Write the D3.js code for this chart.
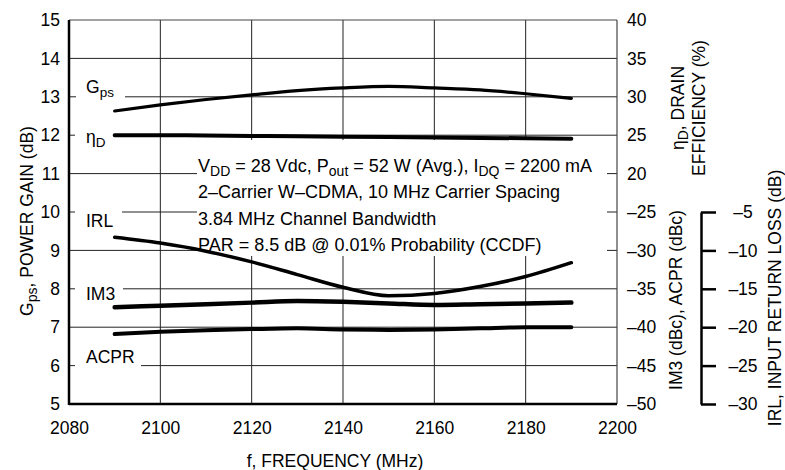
<!DOCTYPE html>
<html>
<head>
<meta charset="utf-8">
<script src="https://cdn.jsdelivr.net/npm/d3@7"></script>
<style>
  body { margin: 0; background: #fff; }
  svg { font-family: "Liberation Sans", Arial, Helvetica, sans-serif; }
</style>
</head>
<body>
<svg id="chart" width="785" height="470"></svg>
<script>
// frequency points (MHz)
var freq = [2090, 2100, 2110, 2120, 2130, 2140, 2150, 2160, 2170, 2180, 2190];
// left axis: power gain (dB)
var gps = [12.63, 12.79, 12.93, 13.05, 13.16, 13.23, 13.27, 13.23, 13.18, 13.08, 12.96];
// drain efficiency (%)
var effD = [25.0, 25.0, 24.95, 24.9, 24.85, 24.8, 24.75, 24.7, 24.65, 24.6, 24.55];
// IM3 / ACPR (dBc)
var im3 = [-37.4, -37.2, -37.0, -36.8, -36.6, -36.7, -36.9, -37.1, -37.0, -36.9, -36.8];
var acpr = [-40.9, -40.6, -40.4, -40.25, -40.15, -40.3, -40.35, -40.3, -40.15, -40.0, -40.0];
// input return loss (dB)
var irl = [-8.3, -9.05, -10.1, -11.5, -13.15, -14.8, -15.9, -15.6, -14.7, -13.4, -11.6];

var xTicks = [2080, 2100, 2120, 2140, 2160, 2180, 2200];
var gainTicks = [5, 6, 7, 8, 9, 10, 11, 12, 13, 14, 15];
var effTicks = [20, 25, 30, 35, 40];
var imdTicks = [-50, -45, -40, -35, -30, -25];
var irlTicks = [-30, -25, -20, -15, -10, -5];

var svg = d3.select("#chart"),
    pLeft = 69, pRight = 617, pTop = 20, pBottom = 404;

var x = d3.scaleLinear().domain([2080, 2200]).range([pLeft, pRight]);
var yG = d3.scaleLinear().domain([5, 15]).range([pBottom, pTop]);
var yEff = d3.scaleLinear().domain([-10, 40]).range([pBottom, pTop]);
var yImd = d3.scaleLinear().domain([-50, 0]).range([pBottom, pTop]);
var yIrlFull = d3.scaleLinear().domain([-30, 20]).range([pBottom, pTop]);
var yIrl = d3.scaleLinear().domain([-30, -5]).range([pBottom, yG(10)]);

function dash(d) { return d < 0 ? "\u2013" + Math.abs(d) : String(d); }

// grid
svg.append("g").selectAll("line").data(gainTicks.slice(1, -1)).enter().append("line")
   .attr("x1", pLeft).attr("x2", pRight)
   .attr("y1", function(d) { return yG(d); }).attr("y2", function(d) { return yG(d); })
   .attr("stroke", "#222").attr("stroke-width", 1);
svg.append("g").selectAll("line").data(xTicks.slice(1, -1)).enter().append("line")
   .attr("y1", pTop).attr("y2", pBottom)
   .attr("x1", function(d) { return x(d); }).attr("x2", function(d) { return x(d); })
   .attr("stroke", "#222").attr("stroke-width", 1);

// white boxes behind labels
var boxes = [[76, 80, 49, 24], [75, 124, 40, 22], [75, 200, 47, 25], [75, 276, 48, 24], [75, 352, 66, 24], [197, 140, 410, 116]];
svg.append("g").selectAll("rect").data(boxes).enter().append("rect")
   .attr("x", function(d) { return d[0]; }).attr("y", function(d) { return d[1]; })
   .attr("width", function(d) { return d[2]; }).attr("height", function(d) { return d[3]; })
   .attr("fill", "#fff");

// frame
svg.append("line").attr("x1", pLeft).attr("x2", pRight).attr("y1", pTop).attr("y2", pTop)
   .attr("stroke", "#444").attr("stroke-width", 1);
svg.append("line").attr("x1", pRight).attr("x2", pRight).attr("y1", pTop).attr("y2", pBottom)
   .attr("stroke", "#444").attr("stroke-width", 1.2);
svg.append("line").attr("x1", pLeft).attr("x2", pLeft).attr("y1", pTop).attr("y2", pBottom + 1)
   .attr("stroke", "#000").attr("stroke-width", 2.5);
svg.append("line").attr("x1", pLeft).attr("x2", pRight).attr("y1", pBottom).attr("y2", pBottom)
   .attr("stroke", "#000").attr("stroke-width", 2.5);

// axes
function styleTicks(g, size) {
    g.select(".domain").remove();
    g.selectAll("text").attr("font-size", size).attr("fill", "#000");
}
svg.append("g").attr("transform", "translate(" + pLeft + ",0)")
   .call(d3.axisLeft(yG).tickValues(gainTicks).tickSize(0).tickPadding(9))
   .call(styleTicks, "17.5px");
svg.append("g").attr("transform", "translate(0," + pBottom + ")")
   .call(d3.axisBottom(x).tickValues(xTicks).tickSize(0).tickPadding(18).tickFormat(d3.format("d")))
   .call(styleTicks, "17.5px");
svg.append("g").attr("transform", "translate(" + pRight + ",0)")
   .call(d3.axisRight(yEff).tickValues(effTicks).tickSize(0).tickPadding(10))
   .call(styleTicks, "17.5px");
svg.append("g").attr("transform", "translate(" + pRight + ",0)")
   .call(d3.axisRight(yImd).tickValues(imdTicks).tickSize(0).tickPadding(10).tickFormat(dash))
   .call(styleTicks, "17.5px");

var irlAxis = svg.append("g").attr("transform", "translate(701,0)")
   .call(d3.axisRight(yIrl).tickValues(irlTicks).tickSizeInner(15).tickSizeOuter(0).tickFormat(dash));
irlAxis.select(".domain").attr("stroke", "#000").attr("stroke-width", 2.5);
irlAxis.selectAll(".tick line").attr("stroke", "#000").attr("stroke-width", 2.5);
irlAxis.selectAll("text").attr("font-size", "17.5px").attr("fill", "#000")
   .attr("text-anchor", "middle").attr("x", 42);

// curves
var series = [
    {values: gps, scale: yG, width: 3.2},
    {values: effD, scale: yEff, width: 4},
    {values: irl, scale: yIrlFull, width: 3.5},
    {values: im3, scale: yImd, width: 4.5},
    {values: acpr, scale: yImd, width: 4}
];
series.forEach(function(s) {
    var line = d3.line()
        .x(function(d, i) { return x(freq[i]); })
        .y(function(d) { return s.scale(d); })
        .curve(d3.curveMonotoneX);
    svg.append("path").datum(s.values)
       .attr("d", line)
       .attr("fill", "none")
       .attr("stroke", "#000")
       .attr("stroke-width", s.width)
       .attr("stroke-linecap", "round");
});

// text with subscripts: parts are [text, isSub]
function richText(t, parts, base, sub) {
    var wasSub = false;
    parts.forEach(function(p) {
        var s = t.append("tspan").text(p[0]).attr("font-size", p[1] ? sub : base);
        if (p[1] && !wasSub) s.attr("dy", 4);
        if (!p[1] && wasSub) s.attr("dy", -4);
        wasSub = p[1];
    });
    return t;
}

// curve labels
var labels = [
    {parts: [["G", false], ["ps", true]], y: 93},
    {parts: [["\u03b7", false], ["D", true]], y: 143},
    {parts: [["IRL", false]], y: 227},
    {parts: [["IM3", false]], y: 300},
    {parts: [["ACPR", false]], y: 363}
];
labels.forEach(function(l) {
    richText(svg.append("text").attr("x", 86).attr("y", l.y), l.parts, "17.5px", "13.5px");
});

// conditions block
var notes = [
    [["V", false], ["DD", true], [" = 28 Vdc, P", false], ["out", true], [" = 52 W (Avg.), I", false], ["DQ", true], [" = 2200 mA", false]],
    [["2\u2013Carrier W\u2013CDMA, 10 MHz Carrier Spacing", false]],
    [["3.84 MHz Channel Bandwidth", false]],
    [["PAR = 8.5 dB @ 0.01% Probability (CCDF)", false]]
];
var noteY = [171.5, 198, 225, 251];
notes.forEach(function(n, i) {
    richText(svg.append("text").attr("x", 198).attr("y", noteY[i]), n, "18px", "14px");
});

// axis titles
function title(tx, ty, parts) {
    var t = svg.append("text").attr("text-anchor", "middle")
       .attr("transform", "translate(" + tx + "," + ty + ") rotate(-90)");
    richText(t, parts, "17.5px", "14px");
}
title(33, 221, [["G", false], ["ps", true], [",  POWER GAIN (dB)", false]]);
title(684, 108, [["\u03b7", false], ["D", true], [", DRAIN", false]]);
title(705, 108, [["EFFICIENCY (%)", false]]);
title(682, 300, [["IM3 (dBc), ACPR (dBc)", false]]);
title(781, 298, [["IRL,  INPUT RETURN LOSS (dB)", false]]);

svg.append("text").attr("x", 335).attr("y", 467).attr("text-anchor", "middle")
   .attr("font-size", "17.5px").text("f, FREQUENCY (MHz)");
</script>
</body>
</html>
